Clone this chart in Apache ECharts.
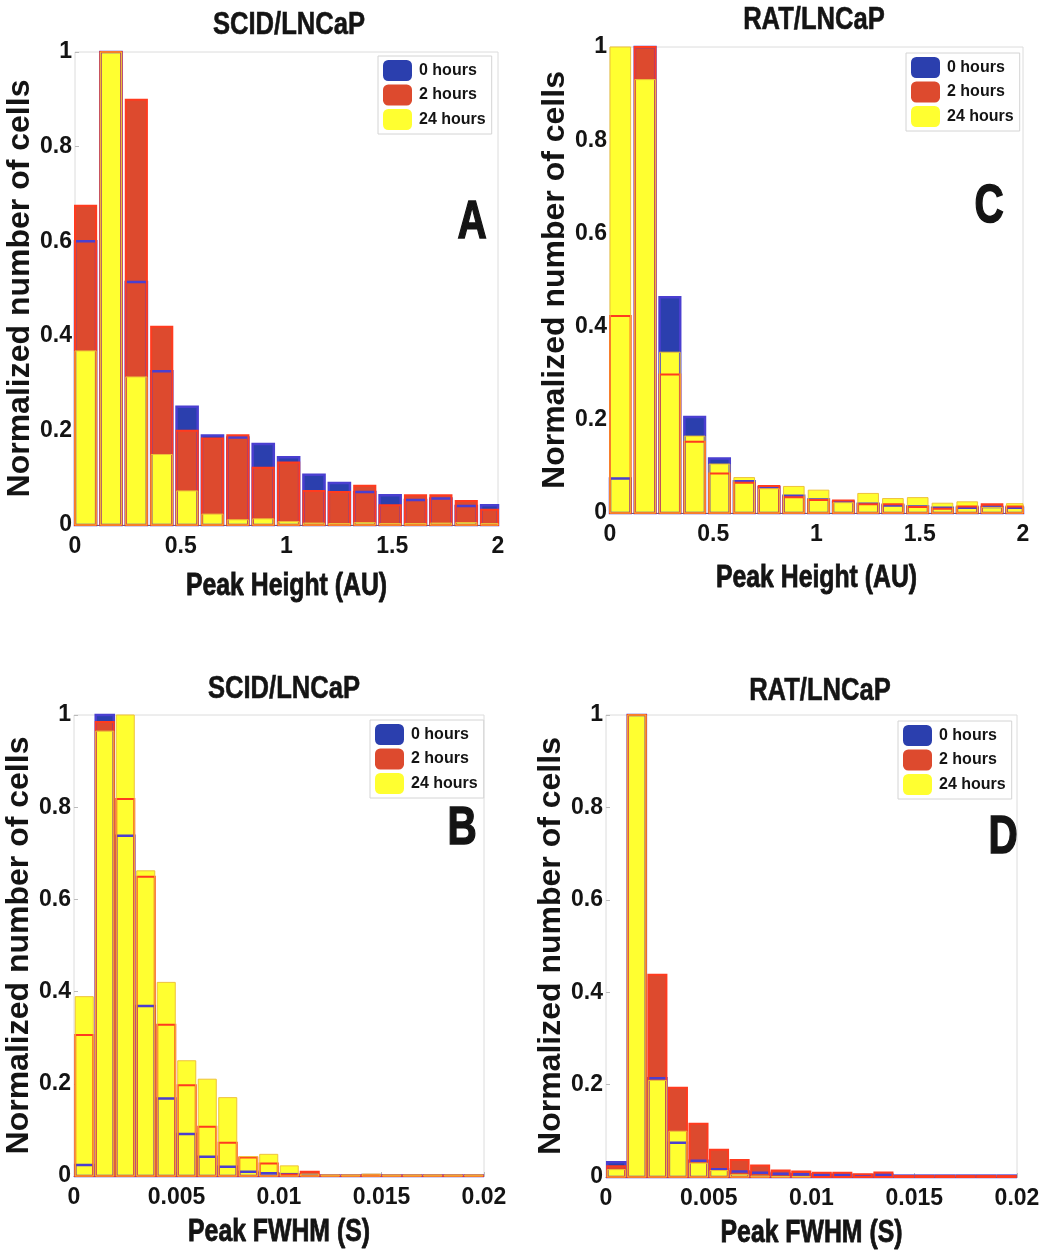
<!DOCTYPE html>
<html>
<head>
<meta charset="utf-8">
<title>Peak height and FWHM histograms</title>
<script src="https://cdn.jsdelivr.net/npm/echarts@6/dist/echarts.min.js"></script>
<style>
  html, body { margin: 0; padding: 0; background: #ffffff; }
  #chart { width: 1043px; height: 1255px; }
</style>
</head>
<body>
<div id="chart"></div>
<script>
// ---- bin centres ----
const heightBins = [0.05, 0.17, 0.29, 0.41, 0.53, 0.65, 0.77, 0.89, 1.01, 1.13, 1.25, 1.37, 1.49, 1.61, 1.73, 1.85, 1.97];
const fwhmBins = [0.0005, 0.0015, 0.0025, 0.0035, 0.0045, 0.0055, 0.0065, 0.0075, 0.0085, 0.0095,
                  0.0105, 0.0115, 0.0125, 0.0135, 0.0145, 0.0155, 0.0165, 0.0175, 0.0185, 0.0195];

// ---- tick values ----
const heightTicks = [0, 0.5, 1, 1.5, 2];
const fwhmTicks = [0, 0.005, 0.01, 0.015, 0.02];
const countTicks = [0, 0.2, 0.4, 0.6, 0.8, 1];

// ---- series names ----
const timePoints = ['0 hours', '2 hours', '24 hours'];

// ---- SCID/LNCaP, peak height ----
const scidHeight0h  = [0.600, 1.000, 0.514, 0.325, 0.250, 0.189, 0.185, 0.171, 0.143, 0.106, 0.089, 0.070, 0.063, 0.053, 0.056, 0.040, 0.042];
const scidHeight2h  = [0.675, 1.000, 0.899, 0.419, 0.199, 0.183, 0.190, 0.121, 0.132, 0.072, 0.070, 0.083, 0.042, 0.063, 0.063, 0.051, 0.032];
const scidHeight24h = [0.368, 1.000, 0.313, 0.149, 0.072, 0.023, 0.011, 0.013, 0.007, 0.004, 0.003, 0.005, 0.003, 0.003, 0.004, 0.005, 0.003];

// ---- RAT/LNCaP, peak height ----
const ratHeight0h  = [0.074, 1.000, 0.463, 0.206, 0.117, 0.068, 0.055, 0.037, 0.029, 0.024, 0.020, 0.016, 0.014, 0.011, 0.011, 0.013, 0.011];
const ratHeight2h  = [0.423, 1.000, 0.297, 0.153, 0.085, 0.065, 0.058, 0.034, 0.028, 0.027, 0.019, 0.019, 0.013, 0.009, 0.014, 0.019, 0.014];
const ratHeight24h = [1.000, 0.930, 0.345, 0.165, 0.105, 0.076, 0.052, 0.057, 0.049, 0.022, 0.042, 0.031, 0.033, 0.021, 0.024, 0.012, 0.020];

// ---- SCID/LNCaP, peak FWHM ----
const scidFwhm0h  = [0.024, 1.000, 0.738, 0.369, 0.168, 0.091, 0.042, 0.020, 0.009, 0.006, 0.004, 0.002, 0.001, 0.001, 0.002, 0.001, 0.001, 0.001, 0.001, 0.001];
const scidFwhm2h  = [0.306, 0.985, 0.818, 0.649, 0.328, 0.197, 0.107, 0.072, 0.040, 0.027, 0.003, 0.009, 0.001, 0.001, 0.002, 0.001, 0.001, 0.001, 0.001, 0.001];
const scidFwhm24h = [0.389, 0.965, 1.000, 0.662, 0.420, 0.250, 0.210, 0.170, 0.042, 0.047, 0.022, 0.004, 0.002, 0.002, 0.004, 0.002, 0.002, 0.002, 0.002, 0.002];

// ---- RAT/LNCaP, peak FWHM ----
const ratFwhm0h  = [0.032, 1.000, 0.214, 0.074, 0.035, 0.017, 0.012, 0.009, 0.007, 0.006, 0.005, 0.005, 0.004, 0.005, 0.003, 0.003, 0.003, 0.003, 0.003, 0.003];
const ratFwhm2h  = [0.023, 1.000, 0.438, 0.193, 0.115, 0.059, 0.037, 0.025, 0.014, 0.012, 0.009, 0.009, 0.006, 0.010, 0.002, 0.002, 0.002, 0.002, 0.002, 0.002];
const ratFwhm24h = [0.016, 1.000, 0.209, 0.099, 0.030, 0.014, 0.005, 0.002, 0.001, 0.001, 0, 0, 0, 0, 0, 0, 0, 0, 0, 0];

// ---- styling ----
const FILL = ['#2b3fae', '#dd4a2e', '#ffff30'];
const EDGE = ['#4a3fd0', '#ff3b1f', '#eec23a'];
const EDGE_W = [2.5, 2, 1];
const TEXT = '#141414';
const SANS = '"Liberation Sans", Arial, Helvetica, sans-serif';

// Overlaid histogram bars: fills stack in series order, outlines sit above every fill.
function histSeries(idx, name, centers, values, barW, k) {
  return {
    type: 'custom',
    name: name,
    xAxisIndex: idx,
    yAxisIndex: idx,
    itemStyle: { color: FILL[k] },
    data: centers.map((c, i) => [c, values[i]]),
    encode: { x: 0, y: 1 },
    renderItem: function (params, api) {
      const c = api.value(0);
      const v = api.value(1);
      if (!(v > 0)) return null;
      const tl = api.coord([c - barW / 2, v]);
      const br = api.coord([c + barW / 2, 0]);
      const cs = params.coordSys;
      const x0 = Math.max(tl[0], cs.x);
      const x1 = Math.min(br[0], cs.x + cs.width);
      if (x1 <= x0) return null;
      const shape = { x: x0, y: tl[1], width: x1 - x0, height: br[1] - tl[1] };
      return {
        type: 'group',
        children: [
          { type: 'rect', shape: shape, style: { fill: FILL[k] }, z2: 1 },
          { type: 'rect', shape: shape, style: { fill: null, stroke: EDGE[k], lineWidth: EDGE_W[k] }, z2: 20 }
        ]
      };
    }
  };
}

const panels = [
  { grid: { left: 75, top: 52, width: 423, height: 473 }, bins: heightBins, barW: 0.1, range: [0, 2], step: 0.5,
    data: [scidHeight0h, scidHeight2h, scidHeight24h], xName: 'Peak Height (AU)', nameY: 586,
    title: 'SCID/LNCaP', titleX: 289, titleY: 25, letter: 'A', letterX: 472, letterY: 223,
    legend: { left: 378, top: 56 } },
  { grid: { left: 610, top: 47, width: 413, height: 466 }, bins: heightBins, barW: 0.1, range: [0, 2], step: 0.5,
    data: [ratHeight0h, ratHeight2h, ratHeight24h], xName: 'Peak Height (AU)', nameY: 578,
    title: 'RAT/LNCaP', titleX: 814, titleY: 20, letter: 'C', letterX: 989, letterY: 207,
    legend: { left: 906, top: 53 } },
  { grid: { left: 74, top: 715, width: 410, height: 461 }, bins: fwhmBins, barW: 0.00088, range: [0, 0.02], step: 0.005,
    data: [scidFwhm0h, scidFwhm2h, scidFwhm24h], xName: 'Peak FWHM (S)', nameY: 1232,
    title: 'SCID/LNCaP', titleX: 284, titleY: 689, letter: 'B', letterX: 462, letterY: 829,
    legend: { left: 370, top: 720 } },
  { grid: { left: 606, top: 715, width: 411, height: 462 }, bins: fwhmBins, barW: 0.00088, range: [0, 0.02], step: 0.005,
    data: [ratFwhm0h, ratFwhm2h, ratFwhm24h], xName: 'Peak FWHM (S)', nameY: 1233,
    title: 'RAT/LNCaP', titleX: 820, titleY: 691, letter: 'D', letterX: 1003, letterY: 838,
    legend: { left: 898, top: 721 } }
];

const option = {
  animation: false,
  backgroundColor: '#ffffff',
  grid: [], xAxis: [], yAxis: [], series: [], legend: [],
  graphic: []
};

// Condensed heavy text, drawn as a horizontally squeezed bold face
function squeezedText(text, x, y, size, squeeze, weight) {
  return {
    type: 'text', x: x, y: y, z: 50, scaleX: squeeze,
    style: { text: text, fill: TEXT, font: 'bold ' + size + 'px ' + SANS,
             align: 'center', verticalAlign: 'middle', stroke: TEXT, lineWidth: weight }
  };
}

panels.forEach((p, i) => {
  option.grid.push(Object.assign({
    show: true, borderColor: '#dcdcdc', borderWidth: 1, backgroundColor: 'transparent',
    containLabel: false, outerBoundsMode: 'none'
  }, p.grid));

  option.xAxis.push({
    type: 'value', gridIndex: i, min: p.range[0], max: p.range[1], interval: p.step,
    axisLine: { show: true, onZero: false, lineStyle: { color: '#6a6a6a', width: 1 } },
    axisTick: { show: true, inside: true, length: 4, lineStyle: { color: '#bbbbbb' } },
    splitLine: { show: false },
    axisLabel: { margin: 10, fontFamily: SANS, fontWeight: 'bold', fontSize: 23, color: TEXT,
                 showMinLabel: true, showMaxLabel: true }
  });

  option.yAxis.push({
    type: 'value', gridIndex: i, min: 0, max: 1, interval: 0.2,
    name: 'Normalized number of cells', nameLocation: 'middle', nameRotate: 90, nameGap: 36,
    nameTextStyle: { fontFamily: SANS, fontWeight: 'bold', fontSize: 32, color: TEXT },
    axisLine: { show: false },
    axisTick: { show: true, inside: true, length: 4, lineStyle: { color: '#bbbbbb' } },
    splitLine: { show: false },
    axisLabel: { margin: 3, fontFamily: SANS, fontWeight: 'bold', fontSize: 23, color: TEXT,
                 showMinLabel: true, showMaxLabel: true }
  });

  timePoints.forEach((name, k) => {
    option.series.push(histSeries(i, name, p.bins, p.data[k], p.barW, k));
  });

  option.legend.push({
    data: timePoints,
    orient: 'vertical',
    left: p.legend.left, top: p.legend.top,
    icon: 'roundRect',
    itemWidth: 29, itemHeight: 21, itemGap: 3.5,
    padding: [4, 6, 4, 5],
    borderColor: '#d4d4d4', borderWidth: 1, backgroundColor: '#ffffff',
    selectedMode: false,
    itemStyle: { borderWidth: 0 },
    textStyle: { fontFamily: SANS, fontWeight: 'bold', fontSize: 16, color: TEXT, padding: [0, 0, 0, 2] }
  });

  const cx = p.grid.left + p.grid.width / 2;
  option.graphic.push(squeezedText(p.xName, cx, p.nameY, 31, 0.8, 0.8));
  option.graphic.push(squeezedText(p.title, p.titleX, p.titleY, 32, 0.8, 0.6));
  option.graphic.push(squeezedText(p.letter, p.letterX, p.letterY, 54, 0.75, 1.5));
});

const chart = echarts.init(document.getElementById('chart'), null, { renderer: 'canvas' });
chart.setOption(option);
</script>
</body>
</html>
